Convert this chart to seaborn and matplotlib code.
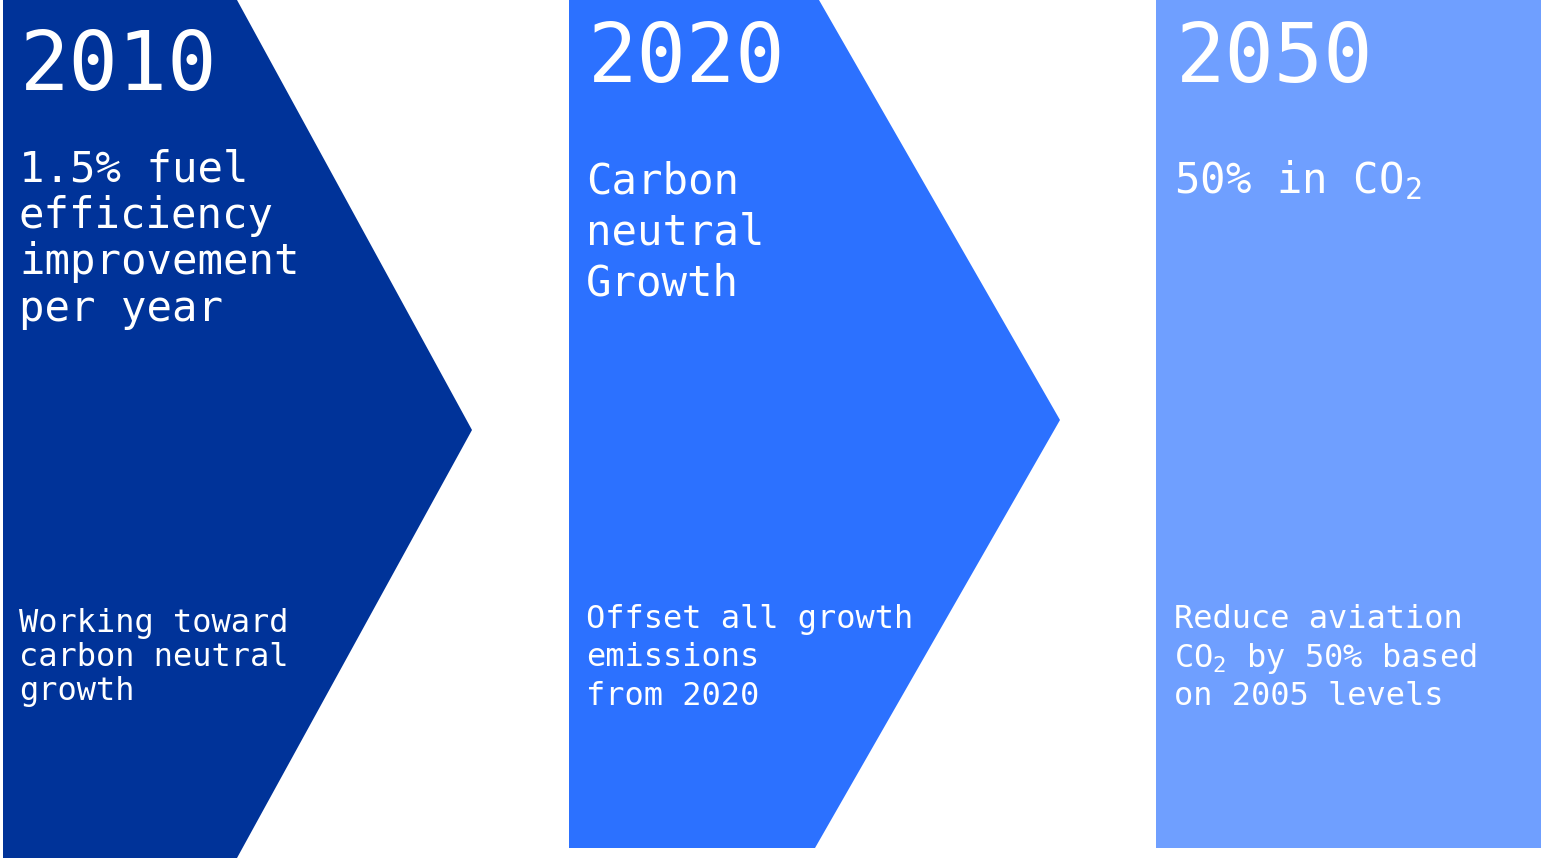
import matplotlib
matplotlib.use("Agg")
import matplotlib.pyplot as plt
import seaborn as sns

# ---- data ----
years = ["2010", "2020", "2050"]
headlines = [
    ["1.5% fuel", "efficiency", "improvement", "per year"],
    ["Carbon", "neutral", "Growth"],
    [r"50% in CO$_\mathrm{2}$"],
]
details = [
    ["Working toward", "carbon neutral", "growth"],
    ["Offset all growth", "emissions", "from 2020"],
    ["Reduce aviation", r"CO$_\mathrm{2}$ by 50% based", "on 2005 levels"],
]
colors = ["#003399", "#2C71FF", "#6F9FFF"]

# shape geometry (pixels)
left_x = [3, 569, 1156]
shoulder_x = [237, 819, 1541]
bottom_shoulder_x = [237, 815, 1541]
tip_x = [472, 1060, 1541]
tip_y = [430, 420, 424]
bottom_y = [858, 848, 848]

# text layout
text_x = [19, 586, 1174]
year_x = [20, 588, 1176]
year_base = [90, 82, 82]
head_base = [182, 193, 193]
head_step = [46.2, 51.5, 0]
head_size = [30.5, 30.5, 30.5]
det_base = [632, 628, 628]
det_step = [34, 38.5, 38.5]

W, H = 1541, 858
sns.set_theme(style="white")
plt.rcParams["font.family"] = ["DejaVu Sans Mono", "DejaVu Sans"]
plt.rcParams["mathtext.fontset"] = "custom"
plt.rcParams["mathtext.rm"] = "DejaVu Sans Mono"
plt.rcParams["mathtext.it"] = "DejaVu Sans Mono"
plt.rcParams["mathtext.bf"] = "DejaVu Sans Mono"

fig = plt.figure(figsize=(W / 100, H / 100), dpi=100)
ax = fig.add_axes([0, 0, 1, 1])
ax.set_xlim(0, W)
ax.set_ylim(H, 0)
ax.axis("off")

for i in range(3):
    xs = [left_x[i], shoulder_x[i], tip_x[i], bottom_shoulder_x[i], left_x[i]]
    ys = [0, 0, tip_y[i], bottom_y[i], bottom_y[i]]
    if i == 2:
        xs = [left_x[i], shoulder_x[i], shoulder_x[i], left_x[i]]
        ys = [0, 0, bottom_y[i], bottom_y[i]]
    ax.fill(xs, ys, color=colors[i], lw=0)

    ax.text(year_x[i], year_base[i], years[i], color="white", fontsize=59,
            ha="left", va="baseline")
    for j, line in enumerate(headlines[i]):
        ax.text(text_x[i], head_base[i] + j * head_step[i], line, color="white",
                fontsize=head_size[i], ha="left", va="baseline")
    for j, line in enumerate(details[i]):
        ax.text(text_x[i], det_base[i] + j * det_step[i], line, color="white",
                fontsize=23, ha="left", va="baseline")

fig.savefig("out.png", dpi=100, facecolor="white")
